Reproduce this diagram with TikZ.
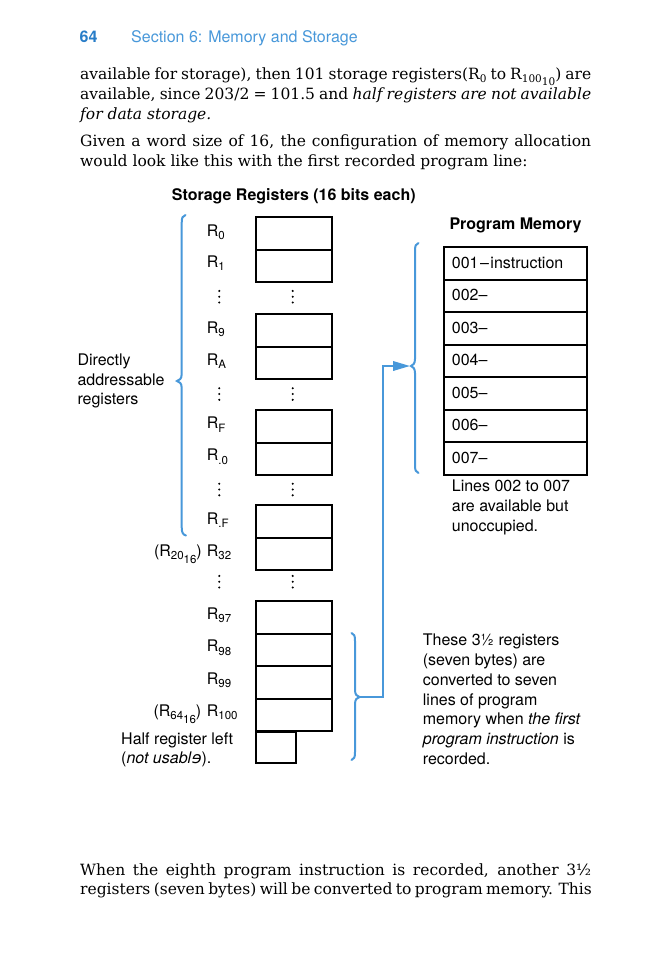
\documentclass[tikz,border=0pt]{standalone}
\usepackage{fontspec}
\setmainfont{DejaVu Serif}
\newfontfamily\hsans{TeX Gyre Heros}
\newfontfamily\djvs{DejaVu Sans}
\usetikzlibrary{arrows.meta}
\definecolor{pblue}{RGB}{72,152,218}
\definecolor{hblue}{RGB}{40,125,200}
\newcommand\jline[1]{\makebox[511pt][s]{\spaceskip=0.26em plus 0.6em minus 0.04em\relax #1}}
\newcommand\lsub[1]{\raisebox{-3.5pt}{\fontsize{11.5}{11.5}\selectfont #1}}
\newcommand\bsub[1]{\raisebox{-3pt}{\fontsize{10.5}{10.5}\selectfont #1}}
\tikzset{
  body/.style={font=\fontsize{15.5}{19}\selectfont, inner sep=0pt, anchor=base west},
  lab/.style={font=\hsans\fontsize{16}{19.5}\selectfont, inner sep=0pt, anchor=base west},
  labr/.style={font=\hsans\fontsize{16}{19.5}\selectfont, inner sep=0pt, anchor=base east},
  ttl/.style={font=\hsans\bfseries\fontsize{16}{19.5}\selectfont, inner sep=0pt, anchor=base west},
  reg/.style={draw, line width=2.1pt, minimum width=76pt, minimum height=32.5pt, inner sep=0pt, anchor=north west},
  half/.style={draw, line width=2.1pt, minimum width=40pt, minimum height=31pt, inner sep=0pt, anchor=north west},
  pm/.style={draw, line width=2.1pt, minimum width=142.4pt, minimum height=32.5pt, inner sep=0pt, anchor=north west},
  bl/.style={draw=pblue, line width=2pt, line cap=round},
}
\newcommand\vdotsat[2]{\fill (#1,#2-5.8) circle (1.15) (#1,#2) circle (1.15) (#1,#2+5.8) circle (1.15);}
\begin{document}
\begin{tikzpicture}[x=1pt,y=-1pt]
\useasboundingbox[fill=white] (0,0) rectangle (666,954);

% header
\node[ttl, text=hblue] (pg) at (79.5,42) {64};
\node[lab, text=pblue] (sec) at (131,42) {Section 6: Memory and Storage};

% body text
\node[body] (t1) at (80,79) {\jline{available for storage), then 101 storage registers(R\bsub{0} to R\bsub{100\bsub{10}}) are}};
\node[body] (t2) at (80,99) {\jline{available, since 203/2 = 101.5 and \textit{half registers are not available}}};
\node[body] (t3) at (80,119) {\textit{for data storage.}};
\node[body] (t4) at (80,146.7) {\jline{Given a word size of 16, the configuration of memory allocation}};
\node[body] (t5) at (80,166.7) {would look like this with the first recorded program line:};

\node[body] (b1) at (80,875) {\jline{When the eighth program instruction is recorded, another 3½}};
\node[body] (b2) at (80,894) {\jline{registers (seven bytes) will be converted to program memory. This}};

% titles
\node[ttl] (srtitle) at (171.7,200.7) {Storage Registers (16 bits each)};
\node[ttl] (pmtitle) at (449.3,229.7) {Program Memory};

% storage registers
\node[reg] (r0) at (255,216) {};
\node[reg] (r1) at (255,248.5) {};
\node[reg] (r9) at (255,313.3) {};
\node[reg] (rA) at (255,345.8) {};
\node[reg] (rF) at (255,409.3) {};
\node[reg] (rp0) at (255,441.8) {};
\node[reg] (rpF) at (255,504) {};
\node[reg] (r32) at (255,536.5) {};
\node[reg] (r97) at (255,600) {};
\node[reg] (r98) at (255,632.5) {};
\node[reg] (r99) at (255,665) {};
\node[reg] (r100) at (255,697.5) {};
\node[half] (rhalf) at (255,730.5) {};

% register labels
\node[lab] (l0) at (206.7,236) {R\lsub{0}};
\node[lab] (l1) at (206.7,267.3) {R\lsub{1}};
\node[lab] (l9) at (206.7,333.3) {R\lsub{9}};
\node[lab] (lA) at (206.7,365) {R\lsub{A}};
\node[lab] (lF) at (206.7,428.5) {R\lsub{F}};
\node[lab] (lp0) at (206.7,460.5) {R\lsub{.0}};
\node[lab] (lpF) at (206.7,524) {R\lsub{.F}};
\node[lab] (l32) at (206.7,556) {R\lsub{32}};
\node[labr] (l32x) at (202,556) {(R\lsub{20\lsub{16}})};
\node[lab] (l97) at (206.7,619) {R\lsub{97}};
\node[lab] (l98) at (206.7,651.5) {R\lsub{98}};
\node[lab] (l99) at (206.7,684) {R\lsub{99}};
\node[lab] (l100) at (206.7,716.3) {R\lsub{100}};
\node[labr] (l100x) at (201.5,716.3) {(R\lsub{64\lsub{16}})};
\node[lab] (lh1) at (121,744.3) {Half register left};
\node[lab] (lh2) at (121,763.5) {(\textit{not usabl}{\djvs\itshape ɘ}).};

% vertical dots
\vdotsat{219.3}{296.7}
\vdotsat{292.7}{296.7}
\vdotsat{219.3}{394}
\vdotsat{292.7}{394}
\vdotsat{219.3}{489.5}
\vdotsat{292.7}{489.5}
\vdotsat{219.3}{581.7}
\vdotsat{292.7}{581.7}

% directly addressable
\node[lab] (d1) at (77.3,365) {Directly};
\node[lab] (d2) at (77.3,385) {addressable};
\node[lab] (d3) at (77.3,404.5) {registers};

% program memory
\node[pm] (p1) at (443.3,246) {};
\node[pm] (p2) at (443.3,278.5) {};
\node[pm] (p3) at (443.3,311) {};
\node[pm] (p4) at (443.3,343.5) {};
\node[pm] (p5) at (443.3,376) {};
\node[pm] (p6) at (443.3,408.5) {};
\node[pm] (p7) at (443.3,441) {};
\node[lab] (pt1) at (451.7,268) {001\hspace{1.5pt}–\hspace{1.5pt}instruction};
\node[lab] (pt2) at (451.7,300.5) {002–};
\node[lab] (pt3) at (451.7,333) {003–};
\node[lab] (pt4) at (451.7,365.5) {004–};
\node[lab] (pt5) at (451.7,398) {005–};
\node[lab] (pt6) at (451.7,430.5) {006–};
\node[lab] (pt7) at (451.7,463) {007–};

\node[lab] (n1) at (451.7,491.7) {Lines 002 to 007};
\node[lab] (n2) at (451.7,511.4) {are available but};
\node[lab] (n3) at (451.7,531) {unoccupied.};

\node[lab] (c1) at (422.7,645.7) {These 3½ registers};
\node[lab] (c2) at (422.7,665.5) {(seven bytes) are};
\node[lab] (c3) at (422.7,685.3) {converted to seven};
\node[lab] (c4) at (422.7,705.1) {lines of program};
\node[lab] (c5) at (422.7,724.9) {memory when \textit{the first}};
\node[lab] (c6) at (422.7,744.7) {\textit{program instruction} is};
\node[lab] (c7) at (422.7,764.5) {recorded.};

% braces
\draw[bl] (185.5,215) .. controls (182.5,215.5) and (181.7,218) .. (181.7,223) -- (181.7,374) .. controls (181.7,378.5) and (179.5,380.5) .. (177,381) .. controls (179.5,381.5) and (181.7,383.5) .. (181.7,388) -- (181.7,527) .. controls (181.7,532) and (182.5,534.5) .. (186,535.5);
\draw[bl] (418.5,243) .. controls (415.8,243.5) and (415,246) .. (415,251) -- (415,359) .. controls (415,363.5) and (413,365.5) .. (411,366) .. controls (413,366.5) and (415,368.5) .. (415,373) -- (415,465) .. controls (415,470) and (415.8,472.5) .. (418.5,473);
\draw[bl] (351.5,633) .. controls (354.2,633.5) and (355,636) .. (355,641) -- (355,690) .. controls (355,694.5) and (357,696.5) .. (359.5,697) .. controls (357,697.5) and (355,699.5) .. (355,704) -- (355,752) .. controls (355,757) and (354.2,759.5) .. (351.5,760);

% connector
\coordinate (rbtip) at (359.5,697);
\coordinate (turn) at (382.5,366);
\coordinate (pbtip) at (410,366);
\draw[bl, line cap=butt, -{Triangle[length=17pt,width=9.5pt]}] (rbtip) -| (turn) -- (pbtip);
\end{tikzpicture}
\end{document}
